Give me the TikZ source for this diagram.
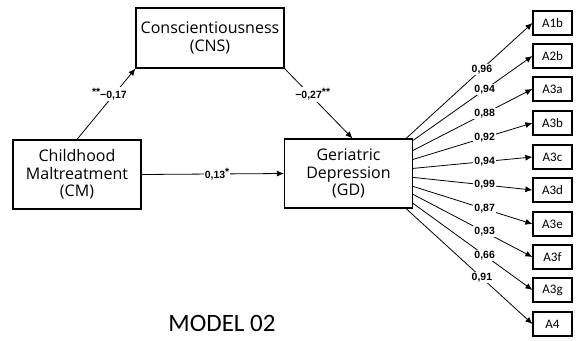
\documentclass[tikz,border=0pt]{standalone}
\usepackage{fontspec}
\usetikzlibrary{arrows.meta}
\newfontfamily\boxfont{Open Sans}
\newfontfamily\indfont{Carlito}
\newfontfamily\labfont{Liberation Sans}
\newcommand{\sig}[1]{\raisebox{3.5pt}{#1}}
\begin{document}
\begin{tikzpicture}[x=1pt,y=-1pt]
\tikzstyle{every node}+=[inner sep=0pt]
\tikzstyle{latent}=[draw=black, line width=1.2pt, align=center, font=\boxfont\fontsize{16}{17.5}\selectfont]
\tikzstyle{item}=[draw=black, line width=1.2pt, minimum width=39pt, minimum height=24pt, font=\indfont\fontsize{13}{15}\selectfont]
\tikzstyle{link}=[black, line width=0.8pt, -{Latex[length=7pt,width=6pt]}]
\tikzstyle{coef}=[fill=white, inner sep=1pt, font=\labfont\bfseries\fontsize{10.5}{12}\selectfont]
\useasboundingbox (0,0) rectangle (577,340);
% latent variables
\node [latent, minimum width=148pt, minimum height=60pt] (cns) at (210,38) {Conscientiousness\\(CNS)};
\node [latent, minimum width=128pt, minimum height=69pt] (cm) at (77,174.5) {Childhood\\Maltreatment\\(CM)};
\node [latent, minimum width=128pt, minimum height=69pt] (gd) at (348.5,173.5) {Geriatric\\Depression\\(GD)};
% items
\node [item] (a1b) at (552.5,23) {A1b};
\node [item] (a2b) at (552.5,56) {A2b};
\node [item] (a3a) at (552.5,89) {A3a};
\node [item] (a3b) at (552.5,123) {A3b};
\node [item] (a3c) at (552.5,157) {A3c};
\node [item] (a3d) at (552.5,190) {A3d};
\node [item] (a3e) at (552.5,224) {A3e};
\node [item] (a3f) at (552.5,257) {A3f};
\node [item] (a3g) at (552.5,290) {A3g};
\node [item] (a4) at (552.5,324) {A4};
% structural paths
\draw [link] (cm.north) -- node [coef, pos=0.64, xshift=-5pt] {\sig{**}−0,17} (cns.south west);
\draw [link] (cns.south east) -- node [coef, pos=0.37, xshift=3pt] {−0,27\sig{**}} ([xshift=4pt]gd.north);
\draw [link] (cm.east) -- node [coef, pos=0.53] {0,13\sig{*}} (gd.west);
% loadings
\draw [link] ([xshift=-7pt]gd.north east) -- node [coef, pos=0.6] {0,96} (a1b.west);
\draw [link] ([yshift=-2pt]gd.north east) -- node [coef, pos=0.6] {0,94} (a2b.west);
\draw [link] ([yshift=-12pt]gd.north east) -- node [coef, pos=0.6] {0,88} (a3a.west);
\draw [link] ([yshift=-21pt]gd.north east) -- node [coef, pos=0.6] {0,92} (a3b.west);
\draw [link] ([yshift=-30pt]gd.north east) -- node [coef, pos=0.6] {0,94} (a3c.west);
\draw [link] ([yshift=-39pt]gd.north east) -- node [coef, pos=0.6] {0,99} (a3d.west);
\draw [link] ([yshift=-48pt]gd.north east) -- node [coef, pos=0.6] {0,87} (a3e.west);
\draw [link] ([yshift=-56pt]gd.north east) -- node [coef, pos=0.6] {0,93} (a3f.west);
\draw [link] ([yshift=-65pt]gd.north east) -- node [coef, pos=0.6] {0,66} (a3g.west);
\draw [link] ([xshift=-7pt]gd.south east) -- node [coef, pos=0.6] {0,91} (a4.west);
% title
\node [font=\indfont\fontsize{25}{30}\selectfont] (title) at (222,323) {MODEL 02};
\end{tikzpicture}
\end{document}
